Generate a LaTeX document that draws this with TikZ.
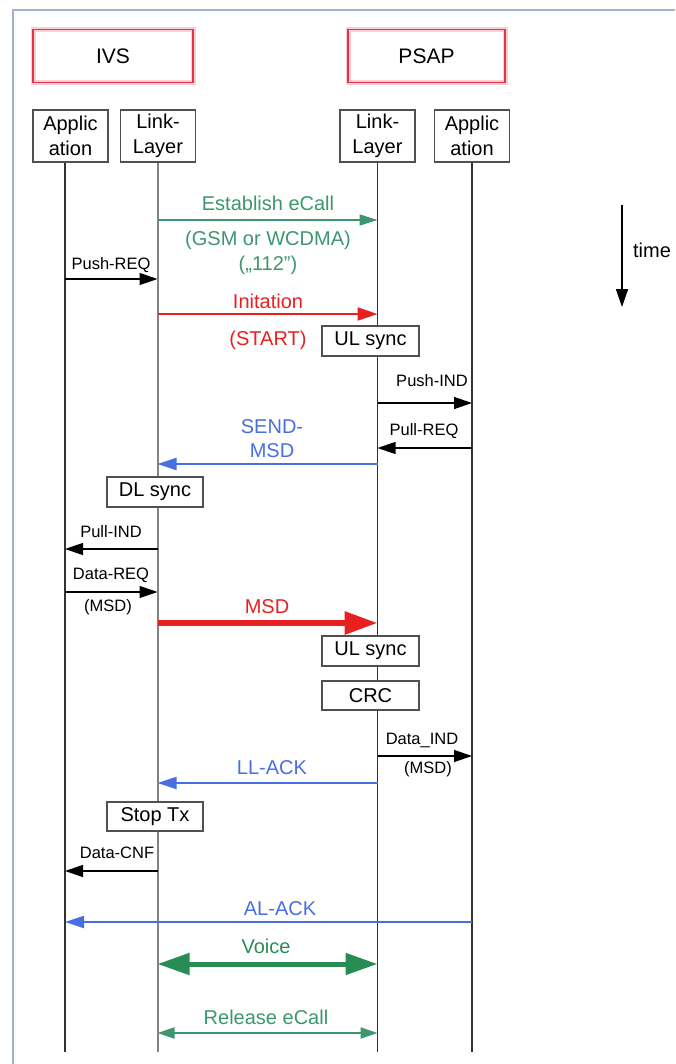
\documentclass[tikz,border=0pt]{standalone}
\usepackage{fontspec}
\setmainfont{Liberation Sans}
\usetikzlibrary{arrows.meta}
\definecolor{framec}{RGB}{160,178,198}
\definecolor{ivsred}{RGB}{228,52,72}
\definecolor{glow}{RGB}{250,205,215}
\definecolor{egreen}{RGB}{60,150,110}
\definecolor{vgreen}{RGB}{40,140,85}
\definecolor{mred}{RGB}{232,32,32}
\definecolor{mblue}{RGB}{72,110,226}
\definecolor{boxc}{RGB}{80,80,80}
\definecolor{lifec}{RGB}{50,50,50}
\definecolor{lifeg}{RGB}{130,130,130}
\begin{document}
\begin{tikzpicture}[x=1pt,y=-1pt,
  big/.style={font=\fontsize{20}{25}\selectfont},
  small/.style={font=\fontsize{16.5}{19}\selectfont},
  entity/.style={draw=ivsred, line width=1.5pt, preaction={draw=glow, line width=5pt},
    minimum height=53pt, inner sep=0pt, font=\fontsize{21}{25}\selectfont},
  layer/.style={draw=boxc, line width=1.3pt, fill=white, minimum width=75pt,
    minimum height=52pt, align=center, inner sep=0pt, big},
  state/.style={draw=boxc, line width=1.3pt, fill=white, minimum width=97pt,
    minimum height=30pt, inner sep=0pt, big},
  life/.style={draw=lifec, line width=1.3pt},
  bk/.style={draw=black, line width=1.3pt, -{Triangle[length=18pt,width=12pt]}},
  gthin/.style={draw=egreen, line width=1.5pt, -{Triangle[length=18pt,width=11pt]}},
  rmid/.style={draw=mred, line width=2.2pt, -{Triangle[length=20pt,width=13pt]}},
  bl/.style={draw=mblue, line width=2pt, -{Triangle[length=19pt,width=12pt]}},
  rthick/.style={draw=mred, line width=6pt, -{Triangle[length=33pt,width=22pt]}},
  gthick/.style={draw=vgreen, line width=5pt, {Triangle[length=32pt,width=21pt]}-{Triangle[length=32pt,width=21pt]}},
  grel/.style={draw=egreen, line width=2pt, {Triangle[length=17pt,width=11pt]}-{Triangle[length=17pt,width=11pt]}},
  glab/.style={big, text=egreen},
  rlab/.style={big, text=mred},
  blab/.style={big, text=mblue},
  klab/.style={small, text=black}]
\useasboundingbox (0,0) rectangle (675,1064);
% frame
\draw[framec, line width=2pt] (13,1064) -- (13,10) -- (675,10);
% entities
\node[entity, minimum width=160pt] (ivs) at (113,56) {IVS};
\node[entity, minimum width=157pt] (psap) at (426.5,56) {PSAP};
% layer boxes
\node[layer] (appL) at (70.5,136) {Applic\\ation};
\node[layer] (linkL) at (158,136) {Link-\\Layer};
\node[layer] (linkR) at (377.5,136) {Link-\\Layer};
\node[layer] (appR) at (472,136) {Applic\\ation};
% lifeline bottoms
\coordinate (b1) at (65,1052);
\coordinate (b2) at (157.5,1052);
\coordinate (b3) at (377.5,1052);
\coordinate (b4) at (472,1052);
\draw[life] (appL.south -| b1) -- (b1);
\draw[draw=lifeg, line width=2pt] (linkL.south -| b2) -- (b2);
\draw[life] (linkR.south -| b3) -- (b3);
\draw[life] (appR.south -| b4) -- (b4);
% Establish eCall
\draw[gthin] (b2 |- 0,220) -- (b3 |- 0,220);
\node[glab] (l1) at (268,203) {Establish eCall};
\node[glab] (l1b) at (268,240) {(GSM or WCDMA)};
\node[glab] (l1c) at (268,265) {(„112")};
% Push-REQ
\draw[bk] (b1 |- 0,279) -- (b2 |- 0,279);
\node[klab] (l2) at (111,265) {Push-REQ};
% Initation
\draw[rmid] (b2 |- 0,314) -- (b3 |- 0,314);
\node[rlab] (l3) at (268,301) {Initation};
\node[rlab] (l3b) at (268,340) {(START)};
\node[state] (ul1) at (370.5,341) {UL sync};
% Push-IND
\draw[bk] (b3 |- 0,403) -- (b4 |- 0,403);
\node[klab] (l4) at (432,381) {Push-IND};
% Pull-REQ
\draw[bk] (b4 |- 0,448) -- (b3 |- 0,448);
\node[klab] (l5) at (424,431) {Pull-REQ};
% SEND-MSD
\draw[bl] (b3 |- 0,464) -- (b2 |- 0,464);
\node[blab] (l6) at (272,427) {SEND-};
\node[blab] (l6b) at (272,451) {MSD};
\node[state, minimum width=96pt] (dl) at (155,492) {DL sync};
% Pull-IND
\draw[bk] (b2 |- 0,549) -- (b1 |- 0,549);
\node[klab] (l7) at (111,532) {Pull-IND};
% Data-REQ
\draw[bk] (b1 |- 0,592) -- (b2 |- 0,592);
\node[klab] (l8) at (111,575) {Data-REQ};
\node[klab] (l8b) at (108,607) {(MSD)};
% MSD
\draw[rthick] (b2 |- 0,623) -- (b3 |- 0,623);
\node[rlab] (l9) at (267,607) {MSD};
\node[state] (ul2) at (370.5,651) {UL sync};
\node[state, minimum height=29pt] (crc) at (370.5,695.5) {CRC};
% Data_IND
\draw[bk] (b3 |- 0,756) -- (b4 |- 0,756);
\node[klab] (l10) at (422,740) {Data\_IND};
\node[klab] (l10b) at (428,769) {(MSD)};
% LL-ACK
\draw[bl] (b3 |- 0,783) -- (b2 |- 0,783);
\node[blab] (l11) at (272,768) {LL-ACK};
\node[state, minimum width=96pt, minimum height=29pt] (stop) at (155,816.5) {Stop Tx};
% Data-CNF
\draw[bk] (b2 |- 0,871) -- (b1 |- 0,871);
\node[klab] (l12) at (117,853) {Data-CNF};
% AL-ACK
\draw[bl] (b4 |- 0,922) -- (b1 |- 0,922);
\node[blab] (l13) at (280,909) {AL-ACK};
% Voice
\draw[gthick] (b2 |- 0,964) -- (b3 |- 0,964);
\node[big, text=vgreen] (l14) at (266,946) {Voice};
% Release eCall
\draw[grel] (b2 |- 0,1033) -- (b3 |- 0,1033);
\node[glab] (l15) at (266,1017) {Release eCall};
% time
\coordinate (t0) at (622,205);
\coordinate (t1) at (622,307);
\draw[bk, line width=1.5pt] (t0) -- (t1);
\node[big] (tl) at (652,250) {time};
\end{tikzpicture}
\end{document}
